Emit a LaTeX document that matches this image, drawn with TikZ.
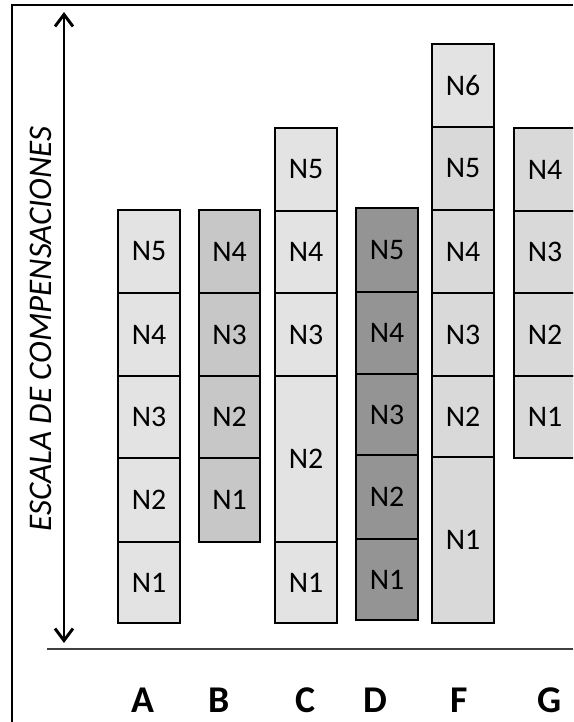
\documentclass[tikz,border=0pt]{standalone}
\usepackage{fontspec}
\setmainfont{Carlito}
\usetikzlibrary{arrows.meta}
\definecolor{claro}{gray}{0.89}
\definecolor{clarof}{gray}{0.85}
\definecolor{medio}{gray}{0.78}
\definecolor{oscuro}{gray}{0.58}
\tikzset{
  celda/.style={draw=black, line width=1.1pt},
  nivel/.style={inner sep=0pt, font=\fontsize{17}{19}\selectfont},
  columna/.style={inner sep=0pt, font=\fontsize{21.5}{24}\selectfont\bfseries},
  flecha/.style={line width=1.7pt, {Straight Barb[length=2.4mm,width=3.6mm]}-{Straight Barb[length=2.4mm,width=3.6mm]}}
}
\begin{document}
\begin{tikzpicture}[scale=0.2]
    \useasboundingbox (0,0) rectangle (57.3,-72.2);
    \clip (0,0) rectangle (57.3,-72.2);
    % marco
    \draw [black, line width=0.8pt] (1.2,-72.2) -- (1.2,-0.5) -- (57.3,-0.5);
    \draw [black!75, line width=0.8pt] (4.7,-64.9) -- (57.3,-64.9);
    % escala
    \coordinate (arriba) at (6.4,-1.2);
    \coordinate (abajo) at (6.4,-64.3);
    \draw [flecha] (abajo) -- (arriba);
    \node (escala) [rotate=90, inner sep=0pt, font=\fontsize{18.8}{22}\selectfont\itshape] at (4.1,-32.9) {ESCALA DE COMPENSACIONES};
    % A
    \draw [celda, fill=claro] (11.8,-21.0) rectangle (18.0,-29.3);
    \draw [celda, fill=claro] (11.8,-29.3) rectangle (18.0,-37.6);
    \draw [celda, fill=claro] (11.8,-37.6) rectangle (18.0,-45.8);
    \draw [celda, fill=claro] (11.8,-45.8) rectangle (18.0,-54.2);
    \draw [celda, fill=claro] (11.8,-54.2) rectangle (18.0,-62.3);
    \node (a5) [nivel] at (14.9,-25.15) {N5};
    \node (a4) [nivel] at (14.9,-33.45) {N4};
    \node (a3) [nivel] at (14.9,-41.7) {N3};
    \node (a2) [nivel] at (14.9,-50.0) {N2};
    \node (a1) [nivel] at (14.9,-58.25) {N1};
    % B
    \draw [celda, fill=medio] (19.9,-21.0) rectangle (26.0,-29.3);
    \draw [celda, fill=medio] (19.9,-29.3) rectangle (26.0,-37.6);
    \draw [celda, fill=medio] (19.9,-37.6) rectangle (26.0,-45.8);
    \draw [celda, fill=medio] (19.9,-45.8) rectangle (26.0,-54.2);
    \node (b4) [nivel] at (22.95,-25.15) {N4};
    \node (b3) [nivel] at (22.95,-33.45) {N3};
    \node (b2) [nivel] at (22.95,-41.7) {N2};
    \node (b1) [nivel] at (22.95,-50.0) {N1};
    % C
    \draw [celda, fill=claro] (27.5,-12.8) rectangle (33.7,-21.1);
    \draw [celda, fill=claro] (27.5,-21.1) rectangle (33.7,-29.3);
    \draw [celda, fill=claro] (27.5,-29.3) rectangle (33.7,-37.6);
    \draw [celda, fill=claro] (27.5,-37.6) rectangle (33.7,-54.2);
    \draw [celda, fill=claro] (27.5,-54.2) rectangle (33.7,-62.3);
    \node (c5) [nivel] at (30.6,-16.95) {N5};
    \node (c4) [nivel] at (30.6,-25.2) {N4};
    \node (c3) [nivel] at (30.6,-33.45) {N3};
    \node (c2) [nivel] at (30.6,-45.9) {N2};
    \node (c1) [nivel] at (30.6,-58.25) {N1};
    % D
    \draw [celda, fill=oscuro] (35.6,-20.8) rectangle (41.8,-29.2);
    \draw [celda, fill=oscuro] (35.6,-29.2) rectangle (41.8,-37.4);
    \draw [celda, fill=oscuro] (35.6,-37.4) rectangle (41.8,-45.5);
    \draw [celda, fill=oscuro] (35.6,-45.5) rectangle (41.8,-53.9);
    \draw [celda, fill=oscuro] (35.6,-53.9) rectangle (41.8,-62.0);
    \node (d5) [nivel] at (38.7,-25.0) {N5};
    \node (d4) [nivel] at (38.7,-33.3) {N4};
    \node (d3) [nivel] at (38.7,-41.45) {N3};
    \node (d2) [nivel] at (38.7,-49.7) {N2};
    \node (d1) [nivel] at (38.7,-57.95) {N1};
    % F
    \draw [celda, fill=claro] (43.2,-4.4) rectangle (49.4,-12.7);
    \draw [celda, fill=clarof] (43.2,-12.7) rectangle (49.4,-21.0);
    \draw [celda, fill=clarof] (43.2,-21.0) rectangle (49.4,-29.3);
    \draw [celda, fill=clarof] (43.2,-29.3) rectangle (49.4,-37.6);
    \draw [celda, fill=clarof] (43.2,-37.6) rectangle (49.4,-45.7);
    \draw [celda, fill=clarof] (43.2,-45.7) rectangle (49.4,-62.3);
    \node (f6) [nivel] at (46.3,-8.55) {N6};
    \node (f5) [nivel] at (46.3,-16.85) {N5};
    \node (f4) [nivel] at (46.3,-25.15) {N4};
    \node (f3) [nivel] at (46.3,-33.45) {N3};
    \node (f2) [nivel] at (46.3,-41.65) {N2};
    \node (f1) [nivel] at (46.3,-54.0) {N1};
    % G
    \draw [celda, fill=clarof] (51.4,-12.8) rectangle (57.6,-21.1);
    \draw [celda, fill=clarof] (51.4,-21.1) rectangle (57.6,-29.3);
    \draw [celda, fill=clarof] (51.4,-29.3) rectangle (57.6,-37.6);
    \draw [celda, fill=clarof] (51.4,-37.6) rectangle (57.6,-45.8);
    \node (g4) [nivel] at (54.5,-16.95) {N4};
    \node (g3) [nivel] at (54.5,-25.2) {N3};
    \node (g2) [nivel] at (54.5,-33.45) {N2};
    \node (g1) [nivel] at (54.5,-41.7) {N1};
    % columnas
    \node (la) [columna] at (14.25,-70.0) {A};
    \node (lb) [columna] at (21.9,-70.0) {B};
    \node (lc) [columna] at (30.5,-70.0) {C};
    \node (ld) [columna] at (37.5,-70.0) {D};
    \node (lf) [columna] at (45.9,-70.0) {F};
    \node (lg) [columna] at (55.0,-70.0) {G};
\end{tikzpicture}
\end{document}
